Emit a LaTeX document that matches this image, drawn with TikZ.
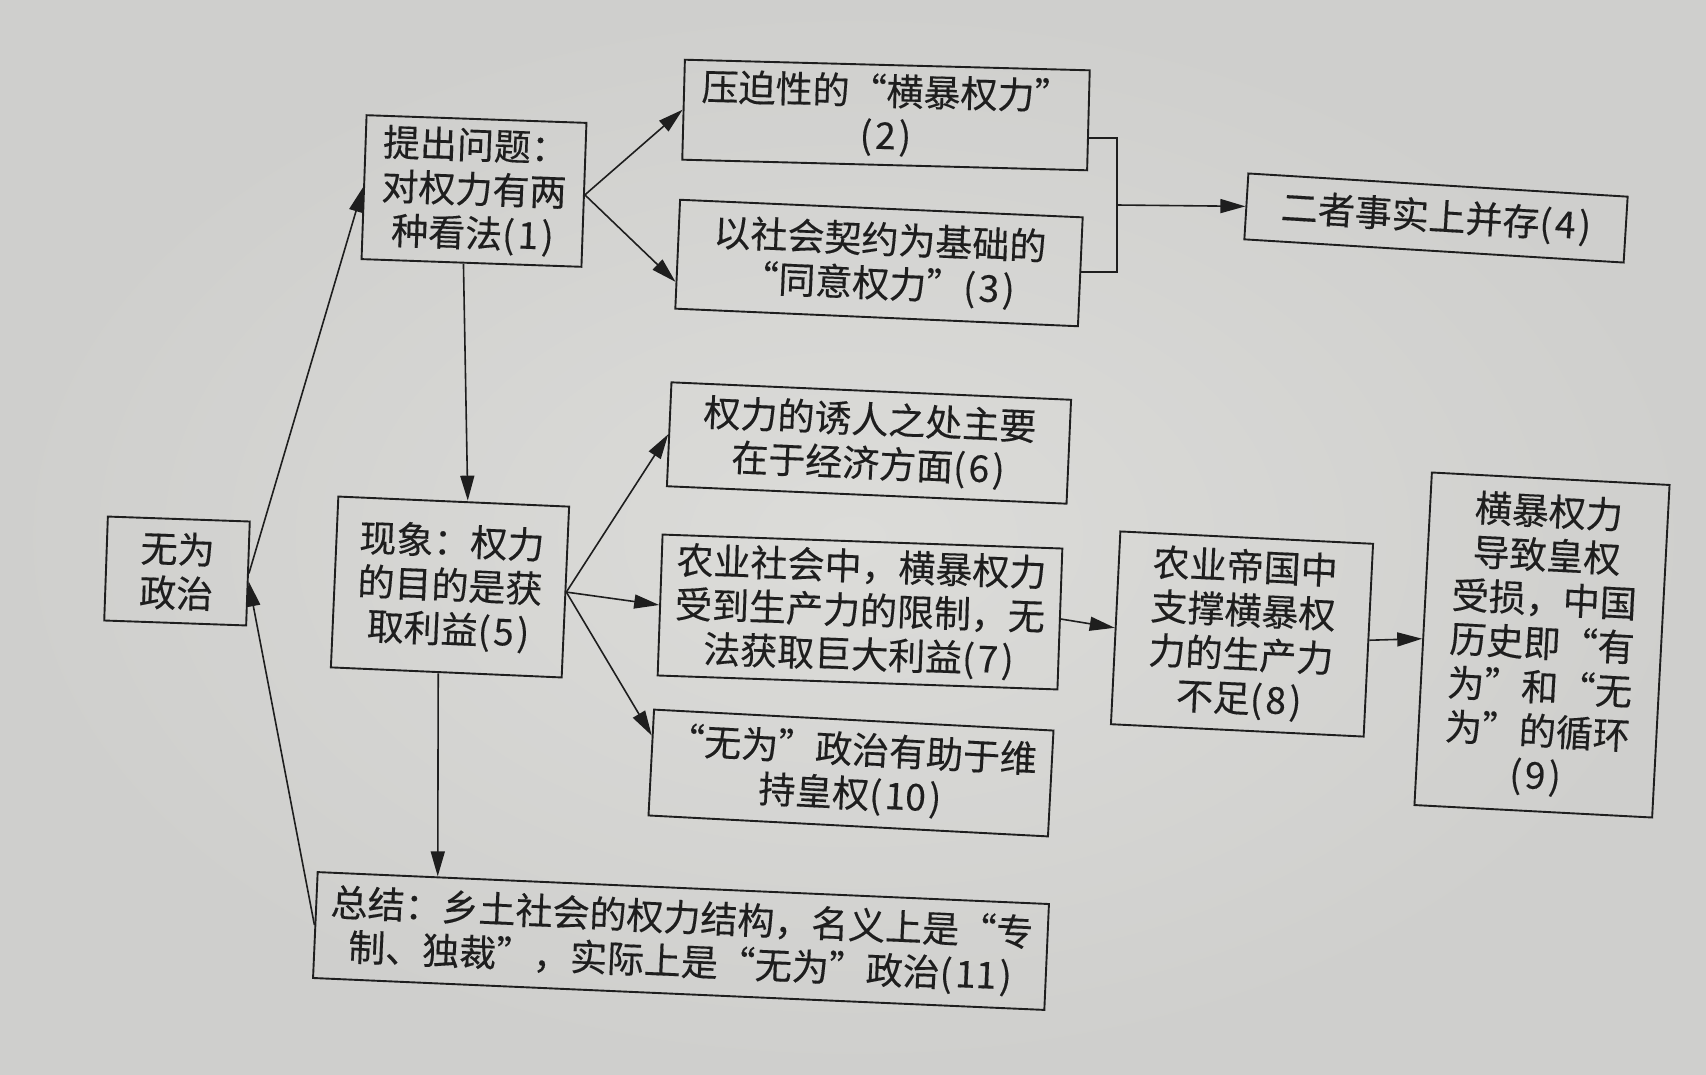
\documentclass[tikz,border=0pt]{standalone}
\usepackage{fontspec}
\newfontfamily\cjk[FakeBold=0.3]{Noto Sans CJK SC}
\newfontfamily\cjkq[CharacterWidth=Full,FakeBold=0.3]{Noto Sans CJK SC}
\newcommand\myqo{{\cjkq “}}
\newcommand\myqc{{\cjkq ”}}
\newcommand\mypn[1]{(\kern3pt#1\kern3pt)}
\usetikzlibrary{arrows.meta,calc}
\definecolor{bgin}{RGB}{220,220,217}
\definecolor{bgout}{RGB}{207,207,205}
\definecolor{ink}{RGB}{30,30,30}
\begin{document}
\begin{tikzpicture}[x=1pt,y=-1pt,
  box/.style={draw=ink, line width=1.9pt, text=ink, align=center, inner sep=0pt,
    font=\cjk\fontsize{37}{44}\selectfont},
  arr/.style={draw=ink, line width=1.6pt, -{Triangle[length=25pt,width=14pt]}},
  lin/.style={draw=ink, line width=1.6pt}]
\shade[inner color=bgin, outer color=bgout] (0,0) rectangle (1706,1074);
\useasboundingbox (0,0) rectangle (1706,1074);

\node[box, minimum width=142, minimum height=104, rotate=-2] (ww) at (177,571) {无为\\政治};
\node[box, minimum width=220, minimum height=144, rotate=-2] (b1) at (474,191) {提出问题：\\对权力有两\\种看法\mypn{1}};
\node[box, minimum width=405, minimum height=100, rotate=-1.5] (b2) at (886,115) {压迫性的\myqo 横暴权力\myqc\\\mypn{2}};
\node[box, minimum width=403, minimum height=109, rotate=-2.5] (b3) at (879,263) {以社会契约为基础的\\\myqo 同意权力\myqc\mypn{3}};
\node[box, minimum width=380, minimum height=66, rotate=-3.5] (b4) at (1436,218) {二者事实上并存\mypn{4}};
\node[box, minimum width=400, minimum height=104, rotate=-2.5] (b6) at (869,443) {权力的诱人之处主要\\在于经济方面\mypn{6}};
\node[box, minimum width=231, minimum height=171, rotate=-2.5] (b5) at (450,587) {现象：权力\\的目的是获\\取利益\mypn{5}};
\node[box, minimum width=400, minimum height=141, rotate=-2] (b7) at (860,612) {农业社会中，横暴权力\\受到生产力的限制，无\\法获取巨大利益\mypn{7}};
\node[box, minimum width=253, minimum height=193, rotate=-2.8] (b8) at (1242,634) {农业帝国中\\支撑横暴权\\力的生产力\\不足\mypn{8}};
\node[box, minimum width=238, minimum height=333, rotate=-3] (b9) at (1542,645) {横暴权力\\导致皇权\\受损，中国\\历史即\myqo 有\\为\myqc 和\myqo 无\\为\myqc 的循环\\\mypn{9}};
\node[box, minimum width=400, minimum height=106, rotate=-3] (b10) at (851,773) {\myqo 无为\myqc 政治有助于维\\持皇权\mypn{10}};
\node[box, minimum width=732, minimum height=106, rotate=-2.5] (b11) at (681,941) {总结：乡土社会的权力结构，名义上是\myqo 专\\制、独裁\myqc，实际上是\myqo 无为\myqc 政治\mypn{11}};

% connectors
\draw[arr] (ww.east) -- (b1.west);
\draw[arr] (b11.west) -- ($(ww.east)!0.15!(ww.south east)$);
\draw[arr] (b1.east) -- (b2.west);
\draw[arr] (b1.east) -- ($(b3.west)!0.5!(b3.south west)$);
\draw[arr] ([xshift=-8pt]b1.south) -- ([xshift=14pt]b5.north);
\coordinate (p2) at ($(b2.east)!0.35!(b2.south east)$);
\coordinate (br) at (1117,205);
\draw[lin] (p2) -- (p2 -| br) -- (b3.east -| br) -- (b3.east);
\draw[arr] (br) -- (b4.west);
\draw[arr] (b5.east) -- (b6.west);
\draw[arr] (b5.east) -- (b7.west);
\draw[arr] (b5.east) -- ($(b10.west)!0.5!(b10.north west)$);
\draw[arr] ([xshift=-8pt]b5.south) -- ($(b11.north west)!0.165!(b11.north east)$);
\draw[arr] (b7.east) -- (b8.west);
\draw[arr] (b8.east) -- (b9.west);
\end{tikzpicture}
\end{document}
